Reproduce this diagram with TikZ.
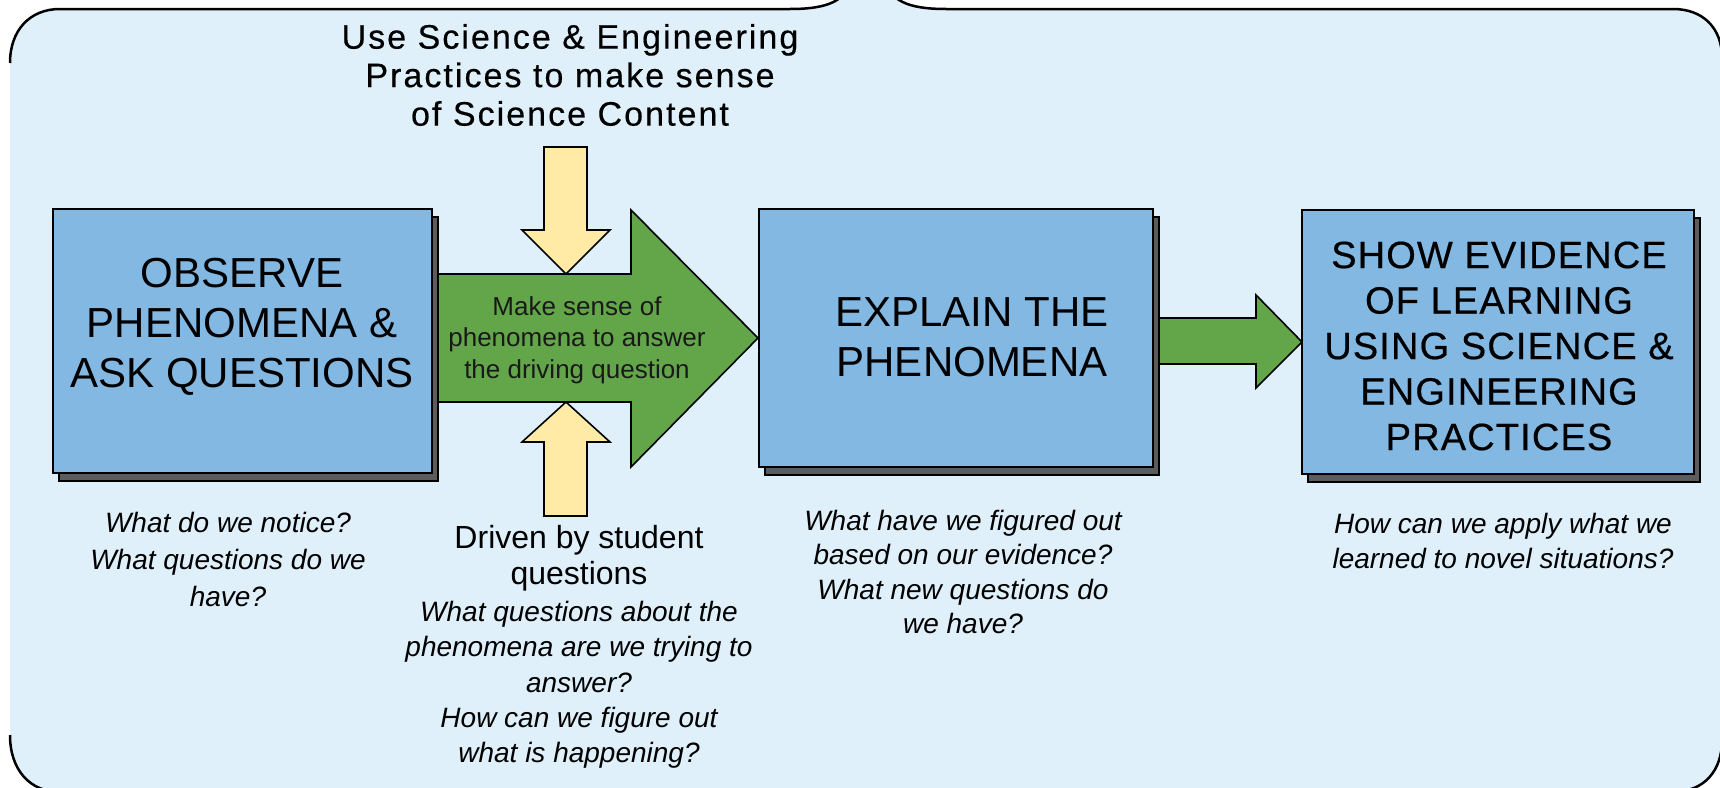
\documentclass[tikz,border=0pt]{standalone}
\usepackage{fontspec}
\setmainfont{Liberation Sans}
\newfontfamily\spaced[LetterSpace=6,FakeBold=0.4]{Liberation Sans}
\newfontfamily\capsfont[LetterSpace=3,FakeBold=0.5]{Liberation Sans}
\usetikzlibrary{shadows}
\definecolor{panel}{RGB}{223,240,250}
\definecolor{boxblue}{RGB}{131,184,226}
\definecolor{shade}{RGB}{92,92,92}
\definecolor{leaf}{RGB}{99,166,74}
\definecolor{cream}{RGB}{255,234,166}
\tikzset{
  stage/.style={draw,line width=2pt,fill=boxblue,inner sep=0pt,
    copy shadow={shadow xshift=6pt,shadow yshift=-8pt,fill=shade,draw=black}},
  blockarrow/.style={draw,line width=1.6pt,line join=miter},
  stagetext/.style={align=center,font=\fontsize{42}{50}\selectfont},
  ask/.style={align=center,font=\fontsize{28}{37}\selectfont\itshape},
}

\begin{document}
\begin{tikzpicture}[x=1pt,y=-1pt]
\useasboundingbox (0,0) rectangle (1720,787);
\clip (0,0) rectangle (1720,787);
% panel behind everything
\fill[panel] (10,63) .. controls (10,30) and (30,9) .. (60,9) -- (790,9)
  .. controls (830,9) and (845,0) .. (852,-20) -- (868,-40) -- (884,-20)
  .. controls (891,0) and (906,9) .. (946,9) -- (1673,9)
  .. controls (1703,9) and (1722,28) .. (1722,58) -- (1722,740)
  .. controls (1722,770) and (1705,792) .. (1672,792) -- (60,792)
  .. controls (30,792) and (10,770) .. (10,735) -- cycle;
\draw[line width=2.5pt] (10,63) .. controls (10,30) and (30,9) .. (60,9) -- (790,9)
  .. controls (830,9) and (845,0) .. (852,-20) -- (868,-40) -- (884,-20)
  .. controls (891,0) and (906,9) .. (946,9) -- (1673,9)
  .. controls (1703,9) and (1722,28) .. (1722,58);
\draw[line width=2.5pt] (10,735) .. controls (10,770) and (30,792) .. (60,792);
\draw[line width=2.5pt] (1722,740) .. controls (1722,770) and (1705,792) .. (1672,792);

% block arrows
\draw[blockarrow,fill=leaf] (425,274) -- (631,274) -- (631,210) -- (758,338)
  -- (631,467) -- (631,402) -- (425,402) -- cycle;
\draw[blockarrow,fill=leaf] (1150,318) -- (1256,318) -- (1256,295) -- (1302,342)
  -- (1256,388) -- (1256,364) -- (1150,364) -- cycle;
\draw[blockarrow,fill=cream] (544,147) -- (587,147) -- (587,230) -- (610,230)
  -- (566,274) -- (522,230) -- (544,230) -- cycle;
\draw[blockarrow,fill=cream] (544,516) -- (587,516) -- (587,442) -- (610,442)
  -- (566,402) -- (522,442) -- (544,442) -- cycle;

% stages
\node[stage,minimum width=379pt,minimum height=264pt] (observe) at (242.5,341) {};
\node[stage,minimum width=394pt,minimum height=258pt] (explain) at (956,338) {};
\node[stage,minimum width=392pt,minimum height=264pt] (evidence) at (1498,342) {};

\node[stagetext] (observetxt) at (242,327) {OBSERVE\\PHENOMENA \&\\ASK QUESTIONS};
\node[stagetext] (explaintxt) at (972,337) {EXPLAIN THE\\PHENOMENA};
\node[align=center,font=\fontsize{38}{45.5}\selectfont\capsfont] (evidencetxt) at (1499,346)
  {SHOW EVIDENCE\\OF LEARNING\\USING SCIENCE \&\\ENGINEERING\\PRACTICES};

\node[align=center,font=\fontsize{34}{38.5}\selectfont\spaced] (practices) at (570,75)
  {Use Science \& Engineering\\Practices to make sense\\of Science Content};
\node[align=center,text=black!90,font=\fontsize{26}{31.5}\selectfont] (sense) at (577,340)
  {Make sense of\\phenomena to answer\\the driving question};

% questions under the stages
\node[ask] (notice) at (228,559) {What do we notice?\\What questions do we\\have?};
\node[align=center,font=\fontsize{32}{36}\selectfont] (driven) at (579,558) {Driven by student\\questions};
\node[ask,font=\fontsize{28}{35.3}\selectfont\itshape] (trying) at (579,685)
  {What questions about the\\phenomena are we trying to\\answer?\\How can we figure out\\what is happening?};
\node[ask,font=\fontsize{28}{34.5}\selectfont\itshape] (figured) at (963,572)
  {What have we figured out\\based on our evidence?\\What new questions do\\we have?};
\node[ask,font=\fontsize{28}{35}\selectfont\itshape] (apply) at (1503,541)
  {How can we apply what we\\learned to novel situations?};
\end{tikzpicture}
\end{document}
